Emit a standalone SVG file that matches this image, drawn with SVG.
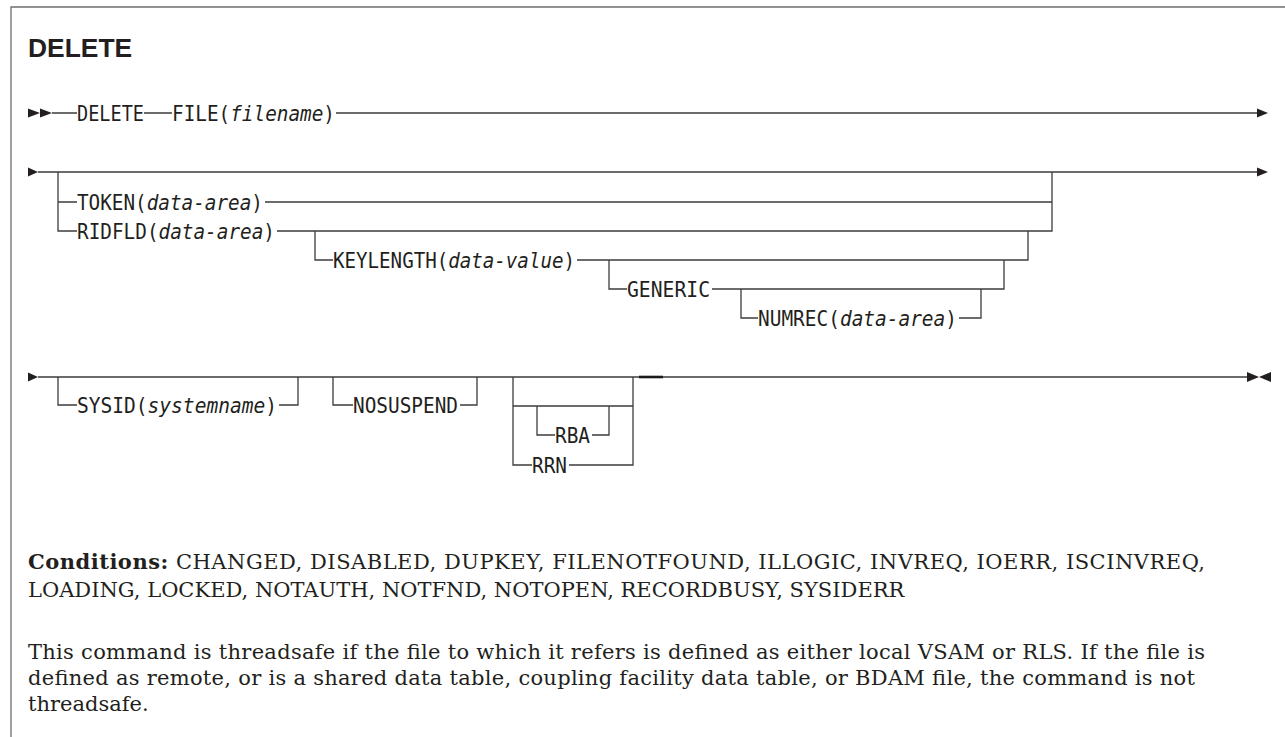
<svg xmlns="http://www.w3.org/2000/svg" width="1285" height="737" viewBox="0 0 1285 737">
<style>
.kw{font-family:"DejaVu Sans Mono","Liberation Mono",monospace;font-size:21.5px;fill:#231f20}
.it{font-style:italic}
.ln{fill:none;stroke:#3c3c3c;stroke-width:1.3}
.ah{fill:#231f20}
.title{font-family:"Liberation Sans",Arial,sans-serif;font-weight:bold;font-size:26.4px;fill:#231f20}
.body{font-family:"DejaVu Serif","Liberation Serif",serif;font-size:21px;fill:#231f20}
.b{font-weight:bold}
</style>
<rect width="1285" height="737" fill="#ffffff"/>
<path d="M11,737 V7 H1285" fill="none" stroke="#6e6e6e" stroke-width="1.3"/>
<text class="title" x="28" y="57">DELETE</text>

<g id="connectors">
  <path class="ln" d="M52,113 H77 M144,113 H172 M336,113 H1258"/>
  <path class="ln" d="M38,172 H1258 M58,172 V231 H77 M58,202 H77 M265,202 H1052 M277,231 H1052 V172 M315,231 V260 H333 M577,260 H1028 V231 M609,260 V289 H627 M712,289 H1004 V260 M741,289 V318 H758 M959,318 H981 V289"/>
  <path class="ln" d="M38,377 H1248 M58,377 V405 H77 M279,405 H298 V377 M333,377 V405 H353 M460,405 H477 V377 M513,377 V465 H532 M513,406 H633 M537,406 V435 H555 M592,435 H609 V406 M569,465 H633 V377"/>
  <path d="M639,377 H663" stroke="#1a1a1a" stroke-width="2.6" fill="none"/>
  <polygon class="ah" points="28,108.5 40,113 28,117.5"/>
  <polygon class="ah" points="40,108.5 52,113 40,117.5"/>
  <polygon class="ah" points="1257,108.5 1268,113 1257,117.5"/>
  <polygon class="ah" points="28,167.5 38,172 28,176.5"/>
  <polygon class="ah" points="1257,167.5 1268,172 1257,176.5"/>
  <polygon class="ah" points="28,372.5 38,377 28,381.5"/>
  <polygon class="ah" points="1247,372 1259,377 1247,382"/>
  <polygon class="ah" points="1271,372 1259,377 1271,382"/>
</g>

<g id="n-delete"><text class="kw" x="77" y="121" textLength="67" lengthAdjust="spacingAndGlyphs">DELETE</text></g>
<g id="n-file"><text class="kw" x="172" y="121" textLength="163" lengthAdjust="spacingAndGlyphs">FILE(<tspan class="it">filename</tspan>)</text></g>
<g id="n-token"><text class="kw" x="77" y="210" textLength="186" lengthAdjust="spacingAndGlyphs">TOKEN(<tspan class="it">data-area</tspan>)</text></g>
<g id="n-ridfld"><text class="kw" x="77" y="239" textLength="198" lengthAdjust="spacingAndGlyphs">RIDFLD(<tspan class="it">data-area</tspan>)</text></g>
<g id="n-keylength"><text class="kw" x="333" y="268" textLength="242" lengthAdjust="spacingAndGlyphs">KEYLENGTH(<tspan class="it">data-value</tspan>)</text></g>
<g id="n-generic"><text class="kw" x="627" y="297" textLength="83" lengthAdjust="spacingAndGlyphs">GENERIC</text></g>
<g id="n-numrec"><text class="kw" x="758" y="326" textLength="199" lengthAdjust="spacingAndGlyphs">NUMREC(<tspan class="it">data-area</tspan>)</text></g>
<g id="n-sysid"><text class="kw" x="77" y="413" textLength="200" lengthAdjust="spacingAndGlyphs">SYSID(<tspan class="it">systemname</tspan>)</text></g>
<g id="n-nosuspend"><text class="kw" x="353" y="413" textLength="105" lengthAdjust="spacingAndGlyphs">NOSUSPEND</text></g>
<g id="n-rba"><text class="kw" x="555" y="443" textLength="35" lengthAdjust="spacingAndGlyphs">RBA</text></g>
<g id="n-rrn"><text class="kw" x="532" y="473" textLength="35" lengthAdjust="spacingAndGlyphs">RRN</text></g>

<g id="conditions">
  <text class="body" x="28" y="569" textLength="1177"><tspan class="b">Conditions:</tspan> CHANGED, DISABLED, DUPKEY, FILENOTFOUND, ILLOGIC, INVREQ, IOERR, ISCINVREQ,</text>
  <text class="body" x="28" y="597">LOADING, LOCKED, NOTAUTH, NOTFND, NOTOPEN, RECORDBUSY, SYSIDERR</text>
</g>
<g id="note">
  <text class="body" x="28" y="659" textLength="1177">This command is threadsafe if the file to which it refers is defined as either local VSAM or RLS. If the file is</text>
  <text class="body" x="28" y="685" textLength="1167">defined as remote, or is a shared data table, coupling facility data table, or BDAM file, the command is not</text>
  <text class="body" x="28" y="711">threadsafe.</text>
</g>
</svg>
